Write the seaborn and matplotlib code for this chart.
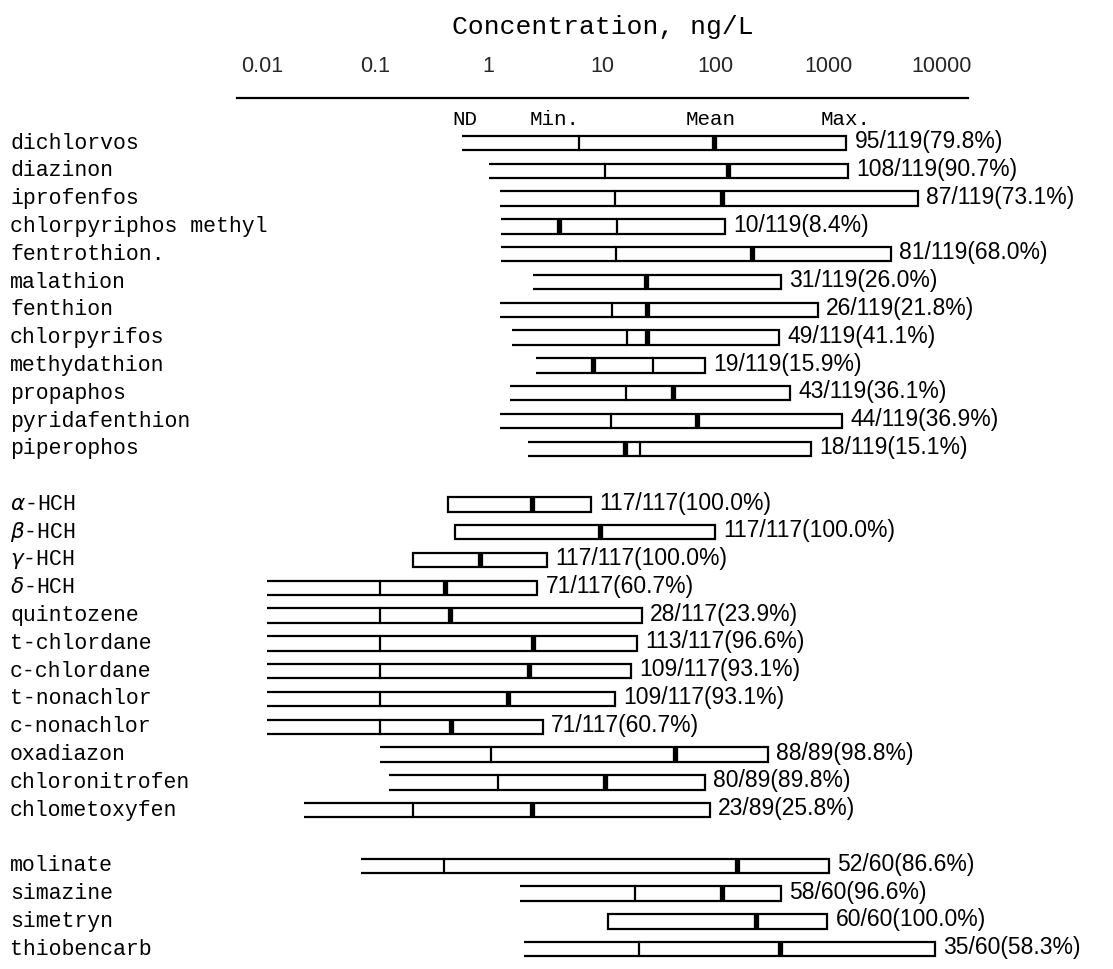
import pandas as pd
import matplotlib
matplotlib.use("Agg")
import matplotlib.pyplot as plt
import matplotlib.transforms as mtransforms
from matplotlib.ticker import FixedLocator, FixedFormatter, NullFormatter
import seaborn as sns

# compounds, top to bottom
names = [
    "dichlorvos", "diazinon", "iprofenfos", "chlorpyriphos methyl", "fentrothion.",
    "malathion", "fenthion", "chlorpyrifos", "methydathion", "propaphos",
    "pyridafenthion", "piperophos",
    r"$\alpha$-HCH", r"$\beta$-HCH", r"$\gamma$-HCH", r"$\delta$-HCH",
    "quintozene", "t-chlordane", "c-chlordane", "t-nonachlor", "c-nonachlor",
    "oxadiazon", "chloronitrofen", "chlometoxyfen",
    "molinate", "simazine", "simetryn", "thiobencarb",
]
# concentrations, ng/L
nd_vals = [0.58, 1.0, 1.25, 1.28, 1.28, 2.46, 1.25, 1.6, 2.6, 1.53, 1.25, 2.2,
           0.44, 0.5, 0.214, 0.011, 0.011, 0.011, 0.011, 0.011, 0.011, 0.109, 0.133, 0.0236,
           0.074, 1.87, 11.3, 2.05]
min_vals = [6.2, 10.7, 13, 13.5, 13.3, 24.3, 12.3, 16.7, 27.9, 16.3, 12, 21.5,
            0.44, 0.5, 0.214, 0.109, 0.109, 0.109, 0.109, 0.109, 0.109, 1.04, 1.2, 0.214,
            0.405, 19.6, 11.3, 21]
mean_vals = [98, 130, 115, 4.2, 209, 24.3, 24.8, 24.8, 8.3, 42.4, 68.7, 15.9,
             2.39, 9.5, 0.836, 0.41, 0.454, 2.46, 2.27, 1.47, 0.465, 44.4, 10.7, 2.4,
             155, 114, 229, 372]
max_vals = [1430, 1470, 6150, 122, 3550, 380, 805, 365, 81, 460, 1310, 700,
            8.0, 99, 3.27, 2.67, 22.5, 20.5, 17.9, 12.9, 3.0, 289, 81, 89,
            1010, 380, 975, 8700]
detects = [
    "95/119(79.8%)", "108/119(90.7%)", "87/119(73.1%)", "10/119(8.4%)", "81/119(68.0%)",
    "31/119(26.0%)", "26/119(21.8%)", "49/119(41.1%)", "19/119(15.9%)", "43/119(36.1%)",
    "44/119(36.9%)", "18/119(15.1%)",
    "117/117(100.0%)", "117/117(100.0%)", "117/117(100.0%)", "71/117(60.7%)",
    "28/117(23.9%)", "113/117(96.6%)", "109/117(93.1%)", "109/117(93.1%)", "71/117(60.7%)",
    "88/89(98.8%)", "80/89(89.8%)", "23/89(25.8%)",
    "52/60(86.6%)", "58/60(96.6%)", "60/60(100.0%)", "35/60(58.3%)",
]
slots = list(range(0, 12)) + list(range(13, 25)) + list(range(26, 30))

tick_vals = [0.01, 0.1, 1, 10, 100, 1000, 10000]
tick_labels = ["0.01", "0.1", "1", "10", "100", "1000", "10000"]
header_labels = ["ND", "Min.", "Mean", "Max."]
header_x = [0.62, 3.8, 90, 1400]

df = pd.DataFrame({"name": names, "nd": nd_vals, "vmin": min_vals,
                   "vmean": mean_vals, "vmax": max_vals, "det": detects, "slot": slots})

sns.set_theme(style="white")
plt.rcParams["font.family"] = ["Liberation Mono", "DejaVu Sans"]

W, H = 1113, 969
fig = plt.figure(figsize=(W / 100, H / 100), dpi=100)
ax = fig.add_axes([237 / W, 4 / H, (968 - 237) / W, (H - 98 - 4) / H])
ax.set_xscale("log")
ax.set_xlim(0.006, 16990)
ax.set_ylim(29.57, -1.62)

h = 0.52
lw = 1.6
ax.barh(df["slot"], df["vmax"] - df["vmin"], left=df["vmin"], height=h,
        color="white", edgecolor="black", linewidth=lw, zorder=2)
# open part between detection limit and minimum
op = df[df["nd"] < df["vmin"]]
for off in (-h / 2, h / 2):
    ax.hlines(op["slot"] + off, op["nd"], op["vmin"], color="black", lw=lw, zorder=2)
ax.vlines(df["vmean"], df["slot"] - h / 2, df["slot"] + h / 2, color="black", lw=3.8, zorder=3)

for _, r in df.iterrows():
    ax.annotate(r["det"], (r["vmax"], r["slot"]), xytext=(6, 1), textcoords="offset points",
                va="center", ha="left", fontsize=16.5, family="Liberation Sans", color="black")

trans = mtransforms.blended_transform_factory(fig.transFigure, ax.transData)
for _, r in df.iterrows():
    ax.text(10 / W, r["slot"], r["name"], transform=trans, va="center", ha="left",
            fontsize=15.5, color="black")

for lbl, x in zip(header_labels, header_x):
    ax.text(x, -0.86, lbl, ha="center", va="center", fontsize=15, color="black")

# axis on top
ax.xaxis.tick_top()
ax.xaxis.set_label_position("top")
ax.xaxis.set_major_locator(FixedLocator(tick_vals))
ax.xaxis.set_major_formatter(FixedFormatter(tick_labels))
minors = [m * 10.0 ** e for e in range(-2, 4) for m in range(2, 10)]
ax.xaxis.set_minor_locator(FixedLocator(minors))
ax.xaxis.set_minor_formatter(NullFormatter())
ax.tick_params(axis="x", which="both", top=True, bottom=False, labeltop=True,
               labelbottom=False, direction="out", color="black", width=1.3)
ax.tick_params(axis="x", which="major", length=7, pad=8, labelsize=15.5)
ax.tick_params(axis="x", which="minor", length=3.5)
for t in ax.get_xticklabels():
    t.set_family("Liberation Sans")
ax.set_yticks([])
ax.set_xlabel("Concentration, ng/L", fontsize=19, labelpad=16, color="black")

sns.despine(ax=ax, top=False, right=True, left=True, bottom=True)
ax.spines["top"].set_color("black")
ax.spines["top"].set_linewidth(lw)

fig.savefig("out.png", dpi=100)
